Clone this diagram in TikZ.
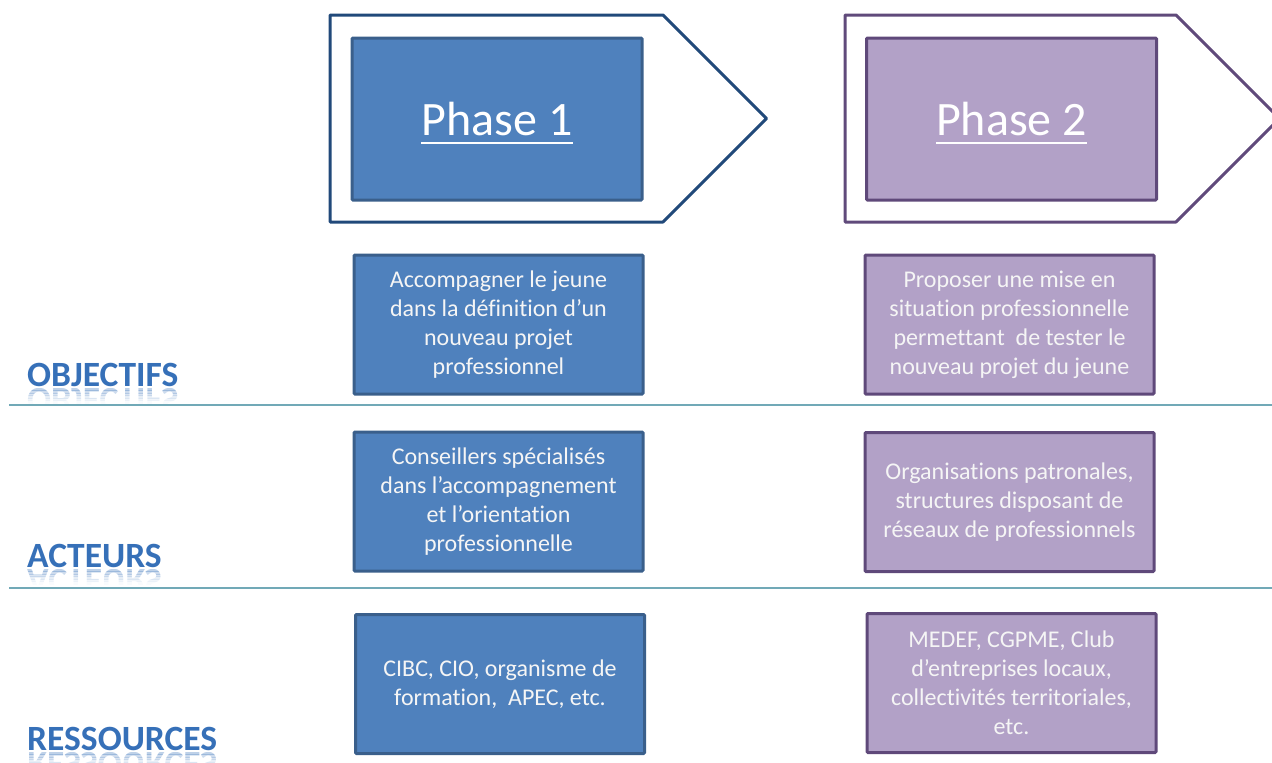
\documentclass[tikz,border=0pt]{standalone}
\usepackage{fontspec}
\setmainfont{Carlito}[RawFeature=-liga]
\definecolor{blueFill}{HTML}{4F81BD}
\definecolor{blueEdge}{HTML}{3A5F8B}
\definecolor{blueOuter}{HTML}{21497A}
\definecolor{violetFill}{HTML}{B2A1C7}
\definecolor{violetEdge}{HTML}{5F497A}
\definecolor{violetOuter}{HTML}{604A7B}
\definecolor{ruleTeal}{HTML}{71A9B7}
\definecolor{labelBlue}{HTML}{3670B8}
\tikzset{
  cbox/.style={draw, line width=3pt, rounded corners=1pt, minimum width=289pt,
    minimum height=139pt, align=center, text=white!96!black,
    font=\fontsize{24}{29}\selectfont},
  bluebox/.style={cbox, fill=blueFill, draw=blueEdge},
  violetbox/.style={cbox, fill=violetFill, draw=violetEdge},
  phasebox/.style={draw, line width=3pt, rounded corners=1pt, minimum width=290pt,
    minimum height=162pt},
  phasetxt/.style={text=white, inner sep=0pt, font=\fontsize{48}{58}\selectfont},
  pentagon/.style={line width=3pt, line join=round},
  sepline/.style={draw=ruleTeal, line width=2pt},
  lbl/.style={text=labelBlue, inner sep=0pt, font=\fontsize{35.5}{40}\selectfont\bfseries}
}
% section label with a fading mirrored copy below its baseline
\newcommand\seclabel[4]{%
  \node[lbl, anchor=base west] (#4) at (#1,#2) {#3};
  \foreach \k/\op in {0/0.32,1/0.25,2/0.18,3/0.12,4/0.07,5/0.03} {
    \begin{scope}[shift={(#1,#2+2)}]
      \clip (-5,\k*2.5) rectangle (300,\k*2.5+2.5);
      \node[lbl, anchor=base west, yscale=-1, transform shape, opacity=\op] at (0,0) {#3};
    \end{scope}}%
}
\begin{document}
\begin{tikzpicture}[x=1pt,y=-1pt]
\useasboundingbox (0,0) rectangle (1272,763);
\clip (0,0) rectangle (1272,763);

% phase arrows
\draw[pentagon, draw=blueOuter] (330,15) -- (663,15) -- (766.5,118.5) -- (663,222) -- (330,222) -- cycle;
\draw[pentagon, draw=violetOuter] (845,15) -- (1176,15) -- (1279.5,118.5) -- (1176,222) -- (845,222) -- cycle;

\node[phasebox, fill=blueFill, draw=blueEdge] (ph1) at (497,119) {};
\node[phasebox, fill=violetFill, draw=violetEdge] (ph2) at (1011.5,119) {};
\node[phasetxt, anchor=base] (ph1t) at (497,135) {Phase 1};
\node[phasetxt, anchor=base] (ph2t) at (1011.5,135) {Phase 2};
\draw[white, line width=2pt] ([yshift=-8pt]ph1t.base west) -- ([yshift=-8pt]ph1t.base east);
\draw[white, line width=2pt] ([yshift=-8pt]ph2t.base west) -- ([yshift=-8pt]ph2t.base east);

% row separators
\draw[sepline] (9,405) -- (1272,405);
\draw[sepline] (9,588) -- (1272,588);

% row labels
\seclabel{27}{386}{OBJECTIFS}{lobj}
\seclabel{27}{567}{ACTEURS}{lact}
\seclabel{27}{750}{RESSOURCES}{lres}

% phase 1 content
\node[bluebox] (obj1) at (498.5,324.5) {Accompagner le jeune\\dans la définition d’un\\nouveau projet\\professionnel};
\node[bluebox] (act1) at (498.5,501.5) {Conseillers spécialisés\\dans l’accompagnement\\et l’orientation\\professionnelle};
\node[bluebox] (res1) at (500,684) {CIBC, CIO, organisme de\\formation,\ \ APEC, etc.};

% phase 2 content
\node[violetbox] (obj2) at (1009.5,324.5) {Proposer une mise en\\situation professionnelle\\permettant\ \ de tester le\\nouveau projet du jeune};
\node[violetbox] (act2) at (1009.5,502) {Organisations patronales,\\structures disposant de\\réseaux de professionnels};
\node[violetbox] (res2) at (1011.5,683) {MEDEF, CGPME, Club\\d’entreprises locaux,\\collectivités territoriales,\\etc.};
\end{tikzpicture}
\end{document}
